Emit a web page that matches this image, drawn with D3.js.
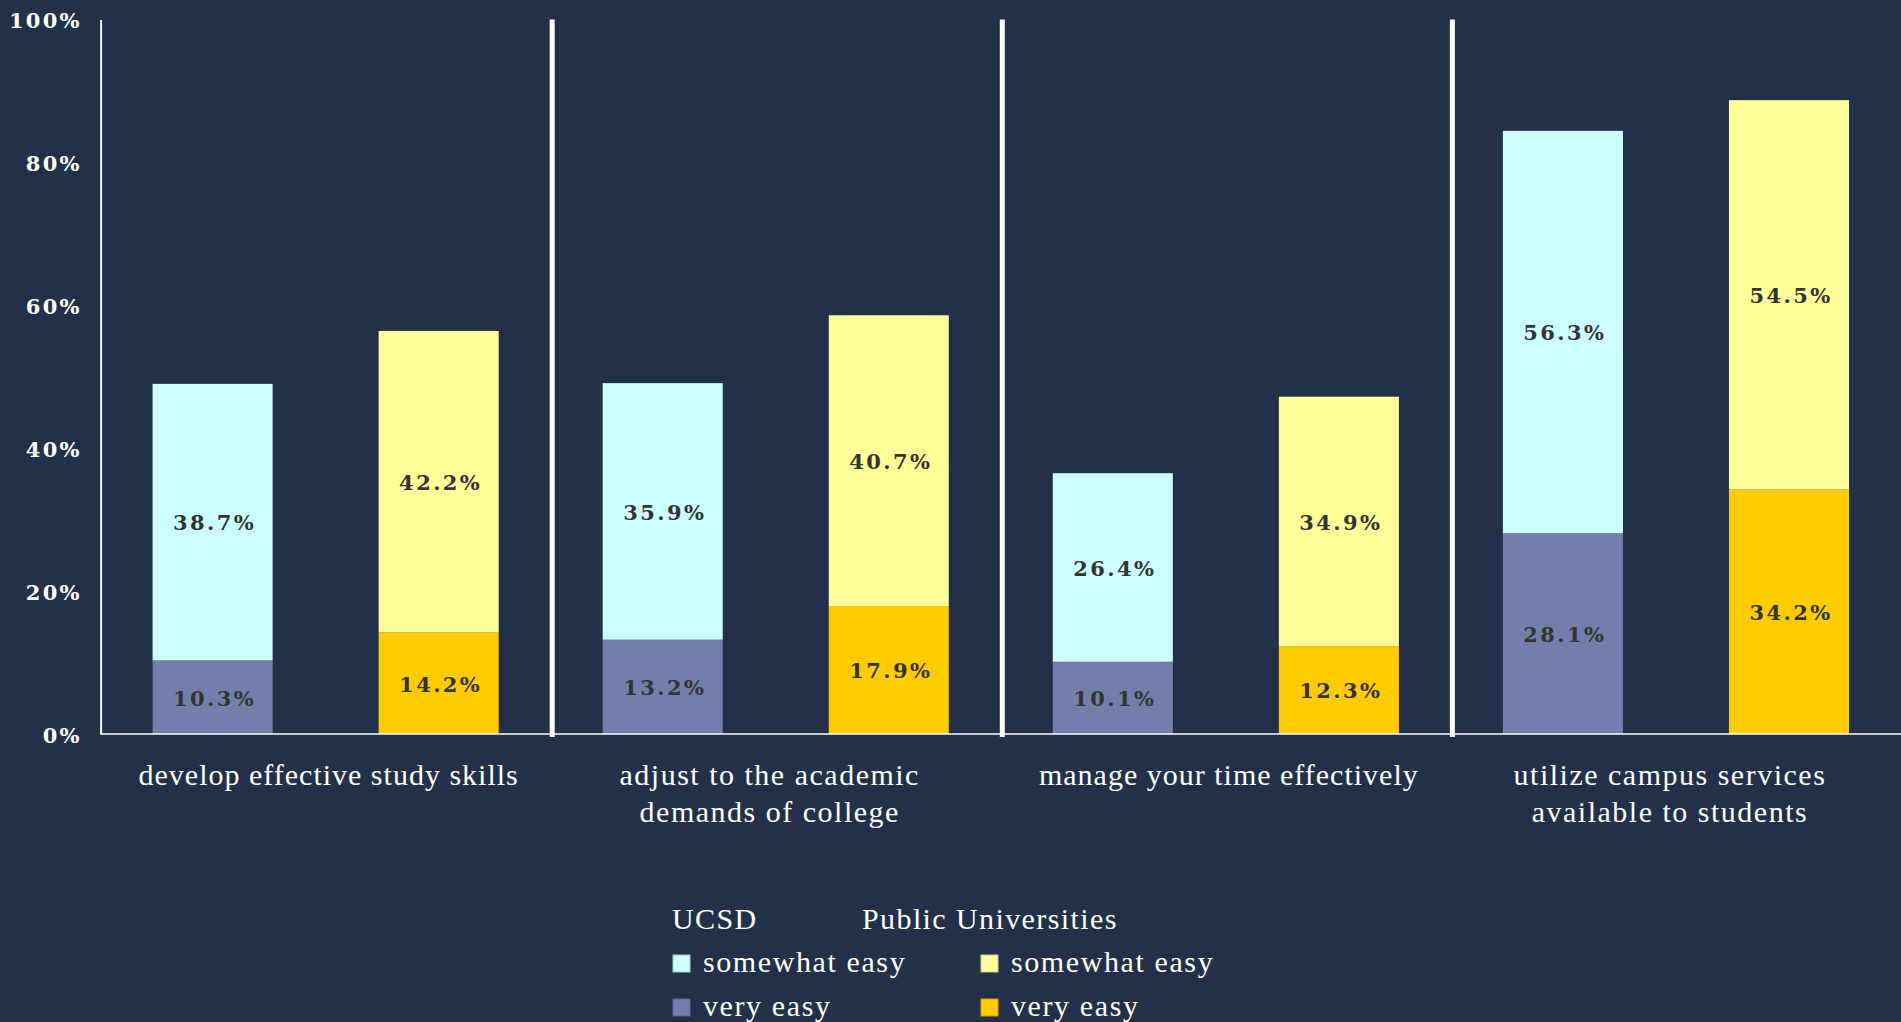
<!DOCTYPE html>
<html>
<head>
<meta charset="utf-8">
<script src="https://cdn.jsdelivr.net/npm/d3@7"></script>
<style>
  html, body { margin: 0; padding: 0; background: #223149; }
  svg { display: block; }
  .axis text { font-family: "DejaVu Serif", serif; font-weight: bold; fill: #ffffff; }
  .bar-label { font-family: "DejaVu Serif", serif; font-weight: bold; fill: #333333; }
  .cat-label, .legend text { font-family: "Liberation Serif", "Times New Roman", serif; fill: #ffffff; }
</style>
</head>
<body>
<div id="chart"></div>
<script>
// data
const categories = [
  ["develop effective study skills"],
  ["adjust to the academic", "demands of college"],
  ["manage your time effectively"],
  ["utilize campus services", "available to students"]
];
const groups = ["UCSD", "Public Universities"];
const ucsdVeryEasy = [10.3, 13.2, 10.1, 28.1];
const ucsdSomewhatEasy = [38.7, 35.9, 26.4, 56.3];
const publicVeryEasy = [14.2, 17.9, 12.3, 34.2];
const publicSomewhatEasy = [42.2, 40.7, 34.9, 54.5];
const yTicks = [0, 20, 40, 60, 80, 100];

const colors = {
  "UCSD": {very: "#737fab", somewhat: "#ccffff"},
  "Public Universities": {very: "#ffcc00", somewhat: "#ffff99"}
};

class StackedBarChart {

  constructor(_config) {
    this.config = {
      parentElement: _config.parentElement,
      containerWidth: _config.containerWidth || 1901,
      containerHeight: _config.containerHeight || 1022,
      margin: _config.margin || {top: 19.4, right: 0, bottom: 288, left: 100.6}
    };
    this.initVis();
  }

  initVis() {
    let vis = this;

    vis.width = vis.config.containerWidth - vis.config.margin.left - vis.config.margin.right;
    vis.height = vis.config.containerHeight - vis.config.margin.top - vis.config.margin.bottom;

    vis.svg = d3.select(vis.config.parentElement).append('svg')
        .attr('width', vis.config.containerWidth)
        .attr('height', vis.config.containerHeight);

    vis.svg.append('rect')
        .attr('width', vis.config.containerWidth)
        .attr('height', vis.config.containerHeight)
        .attr('fill', '#223149');

    vis.chart = vis.svg.append('g')
        .attr('transform', `translate(${vis.config.margin.left},${vis.config.margin.top})`);

    vis.xScale = d3.scaleBand()
        .domain(categories.map(d => d.join(' ')))
        .range([0, vis.width]);

    vis.xInner = d3.scaleBand()
        .domain(groups)
        .range([0, vis.xScale.bandwidth()])
        .paddingInner(0.469)
        .paddingOuter(0.23);

    vis.yScale = d3.scaleLinear()
        .domain([0, 100])
        .range([vis.height, 0]);

    vis.yAxis = d3.axisLeft(vis.yScale)
        .tickValues(yTicks)
        .tickFormat(d => d + '%')
        .tickSize(0)
        .tickPadding(19);

    // flat table built from the arrays
    vis.rows = [];
    categories.forEach((c, i) => {
      const key = c.join(' ');
      vis.rows.push({cat: key, group: 'UCSD', very: ucsdVeryEasy[i], somewhat: ucsdSomewhatEasy[i]});
      vis.rows.push({cat: key, group: 'Public Universities', very: publicVeryEasy[i], somewhat: publicSomewhatEasy[i]});
    });

    vis.renderVis();
  }

  renderVis() {
    let vis = this;

    vis.segments = [];
    vis.rows.forEach(r => {
      vis.segments.push({cat: r.cat, group: r.group, y0: 0, y1: r.very, value: r.very, fill: colors[r.group].very});
      vis.segments.push({cat: r.cat, group: r.group, y0: r.very, y1: r.very + r.somewhat, value: r.somewhat, fill: colors[r.group].somewhat});
    });

    const barX = d => vis.xScale(d.cat) + vis.xInner(d.group);

    vis.chart.selectAll('.bar')
        .data(vis.segments)
        .join('rect')
        .attr('class', 'bar')
        .attr('x', barX)
        .attr('width', vis.xInner.bandwidth())
        .attr('y', d => vis.yScale(d.y1))
        .attr('height', d => vis.yScale(d.y0) - vis.yScale(d.y1))
        .attr('fill', d => d.fill);

    vis.chart.selectAll('.bar-label')
        .data(vis.segments)
        .join('text')
        .attr('class', 'bar-label')
        .attr('x', d => barX(d) + vis.xInner.bandwidth() / 2 + 2)
        .attr('y', d => vis.yScale((d.y0 + d.y1) / 2) + 1)
        .attr('dy', '0.35em')
        .attr('text-anchor', 'middle')
        .style('font-size', '21px')
        .style('letter-spacing', '2.4px')
        .text(d => d.value.toFixed(1) + '%');

    // y axis
    vis.yAxisG = vis.chart.append('g')
        .attr('class', 'axis y-axis')
        .call(vis.yAxis);
    vis.yAxisG.select('.domain').attr('stroke', '#ffffff').attr('stroke-width', 2);
    vis.yAxisG.selectAll('text')
        .style('font-size', '21px')
        .style('letter-spacing', '2.2px')
        .attr('dy', '0.4em');

    // baseline
    vis.chart.append('line')
        .attr('x1', 0).attr('x2', vis.width)
        .attr('y1', vis.yScale(0)).attr('y2', vis.yScale(0))
        .attr('stroke', '#ffffff')
        .attr('stroke-width', 1.5);

    // separators between categories
    vis.chart.selectAll('.separator')
        .data(vis.xScale.domain().slice(1))
        .join('line')
        .attr('class', 'separator')
        .attr('x1', d => vis.xScale(d) + 1.5)
        .attr('x2', d => vis.xScale(d) + 1.5)
        .attr('y1', 0)
        .attr('y2', vis.height + 3)
        .attr('stroke', '#ffffff')
        .attr('stroke-width', 5);

    // category labels
    vis.chart.selectAll('.cat-label')
        .data(categories)
        .join('text')
        .attr('class', 'cat-label')
        .attr('x', d => vis.xScale(d.join(' ')) + vis.xScale.bandwidth() / 2 + (d.length > 1 ? -6 : 3))
        .attr('y', vis.height + 51)
        .attr('text-anchor', 'middle')
        .style('font-size', '30px')
        .style('letter-spacing', d => d.length > 1 ? '1.5px' : '1px')
        .selectAll('tspan')
        .data(d => d)
        .join('tspan')
        .attr('x', function() { return d3.select(this.parentNode).attr('x'); })
        .attr('dy', (d, i) => i === 0 ? 0 : 37)
        .text(d => d);

    // legend
    const legend = vis.svg.append('g').attr('class', 'legend');
    const legendCols = [672, 862];
    const legendItems = [
      {label: 'somewhat easy', key: 'somewhat'},
      {label: 'very easy', key: 'very'}
    ];
    groups.forEach((g, gi) => {
      legend.append('text')
          .attr('x', legendCols[gi])
          .attr('y', 929)
          .style('font-size', '30px')
          .style('letter-spacing', '1.4px')
          .text(g);
      legendItems.forEach((item, ii) => {
        const sx = gi === 0 ? 673 : 981;
        const rowY = 972 + ii * 44;
        legend.append('rect')
            .attr('x', sx)
            .attr('y', rowY - 17)
            .attr('width', 17)
            .attr('height', 17)
            .attr('fill', colors[g][item.key])
            .attr('stroke', d3.color(colors[g][item.key]).darker(0.6))
            .attr('stroke-width', 1);
        legend.append('text')
            .attr('x', sx + 30)
            .attr('y', rowY)
            .style('font-size', '30px')
            .style('letter-spacing', '1.6px')
            .text(item.label);
      });
    });
  }
}

new StackedBarChart({parentElement: '#chart'});
</script>
</body>
</html>
